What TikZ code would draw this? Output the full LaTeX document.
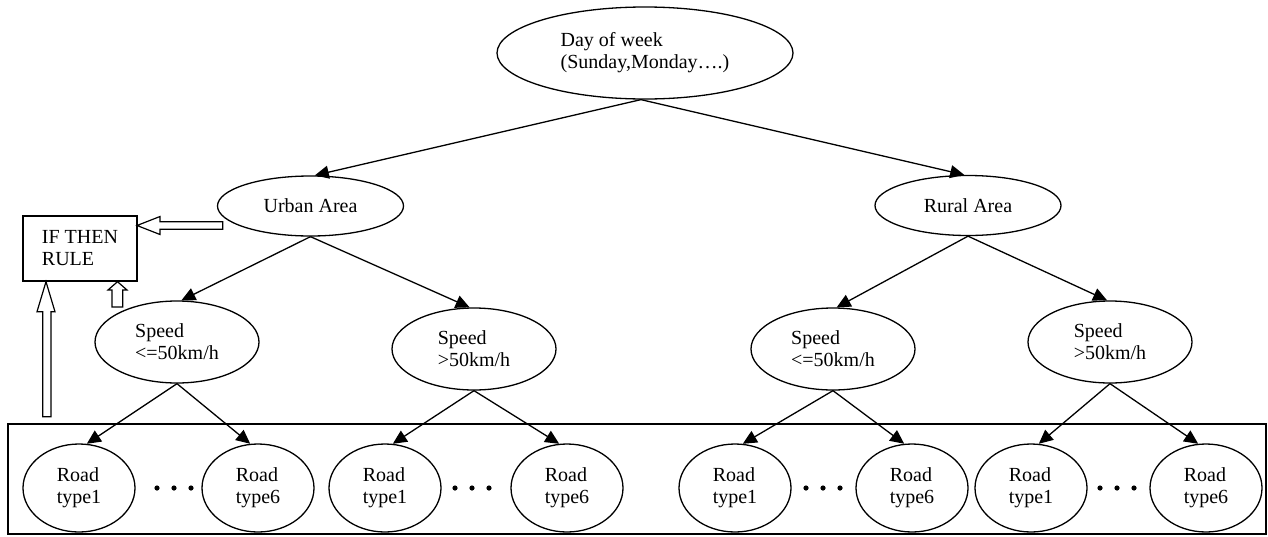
\documentclass[tikz,border=0pt]{standalone}
\usepackage{fontspec}
\setmainfont{Liberation Serif}
\usetikzlibrary{shapes.geometric,arrows.meta}
\begin{document}
\begin{tikzpicture}[x=1pt,y=-1pt,
  every node/.style={font=\fontsize{20}{22}\selectfont, align=left},
  ell/.style={draw, ellipse, line width=1.3pt, inner sep=0pt},
  rootn/.style={ell, minimum width=296pt, minimum height=92pt},
  area/.style={ell, minimum width=186pt, minimum height=60pt},
  spd/.style={ell, minimum width=164pt, minimum height=82pt},
  road/.style={ell, minimum width=112pt, minimum height=88pt},
  rulebox/.style={draw, line width=1.2pt, minimum width=114pt, minimum height=65pt, inner sep=0pt},
  conn/.style={line width=1.3pt, -{Triangle[length=14pt,width=13pt]}},
  hollow/.style={draw, line width=1.2pt, fill=white},
  framebox/.style={draw, line width=1.2pt}
  ]
\useasboundingbox (0,0) rectangle (1268,536);

% outer frame round the leaves
\draw[framebox] (8,424) rectangle (1266,534);

% nodes
\node[rootn] (root) at (645,53) {Day of week\\(Sunday,Monday….)};
\node[area] (urban) at (310.5,206) {Urban Area};
\node[area] (rural) at (968,205.5) {Rural Area};
\node[spd] (us1) at (177,342) {Speed\\<=50km/h};
\node[spd] (us2) at (474,349) {Speed\\>50km/h};
\node[spd] (rs1) at (833,349) {Speed\\<=50km/h};
\node[spd] (rs2) at (1110,342) {Speed\\>50km/h};

\node[road] (a1) at (79,488) {Road\\type1};
\node[road] (a2) at (258,488) {Road\\type6};
\node[road] (b1) at (385,488) {Road\\type1};
\node[road] (b2) at (567,488) {Road\\type6};
\node[road] (c1) at (735,488) {Road\\type1};
\node[road] (c2) at (912,488) {Road\\type6};
\node[road] (d1) at (1031,488) {Road\\type1};
\node[road] (d2) at (1206,488) {Road\\type6};

\node[rulebox] (rule) at (80,248.5) {IF THEN\\RULE};

% connectors
\draw[conn] (root.265) -- (urban.82);
\draw[conn] (root.265) -- (rural.97);
\draw[conn] (urban.south) -- (us1.84);
\draw[conn] (urban.south) -- (us2.96);
\draw[conn] (rural.south) -- (rs1.85);
\draw[conn] (rural.south) -- (rs2.94);

\draw[conn] (us1.south) -- (a1.80);
\draw[conn] (us1.south) -- (a2.100);
\draw[conn] (us2.south) -- (b1.80);
\draw[conn] (us2.south) -- (b2.100);
\draw[conn] (rs1.south) -- (c1.80);
\draw[conn] (rs1.south) -- (c2.100);
\draw[conn] (rs2.south) -- (d1.80);
\draw[conn] (rs2.south) -- (d2.100);

% dots between leaves
\foreach \c in {174,472,823,1117}
  \foreach \d in {-17,0,17}
    \fill (\c+\d,488) circle (2.6pt);

% hollow block arrows toward the rule box
\draw[hollow] (137,225.5) -- (160,216.5) -- (160,221.7) -- (222.7,221.7)
  -- (222.7,229.3) -- (160,229.3) -- (160,234.5) -- cycle;
\draw[hollow] (117.5,281.7) -- (127,290) -- (122.7,290) -- (122.7,307)
  -- (112,307) -- (112,290) -- (108,290) -- cycle;
\draw[hollow] (46,281.7) -- (55,311.7) -- (51,311.7) -- (51,416.7)
  -- (42.7,416.7) -- (42.7,311.7) -- (37,311.7) -- cycle;
\end{tikzpicture}
\end{document}
